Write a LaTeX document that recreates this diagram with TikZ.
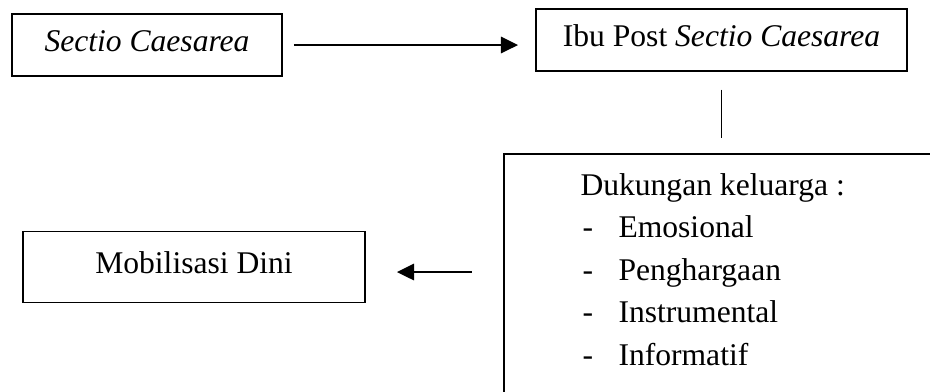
\documentclass[tikz,border=0pt]{standalone}
\usepackage{fontspec}
\setmainfont{Liberation Serif}
\usetikzlibrary{arrows.meta}

\tikzset{
  box/.style={draw,line width=0.6pt,inner sep=0pt,text height=8pt,text depth=3pt},
  flow/.style={line width=0.9pt,-{Triangle[length=6.5pt,width=6.2pt]}},
  entry/.style={anchor=base west,inner sep=0pt}
}

\begin{document}
\begin{tikzpicture}[x=0.38pt,y=-0.38pt,font=\fontsize{12}{14}\selectfont]
\useasboundingbox (0,0) rectangle (930,391);
\clip (0,0) rectangle (930,391);

\node[box,minimum width=102.6pt,minimum height=23.6pt] (sc) at (147,45) {\textit{Sectio Caesarea}};
\node[box,minimum width=141pt,minimum height=23.6pt] (ibu) at (721.5,40) {Ibu Post \textit{Sectio Caesarea}};
\node[box,minimum width=130pt,minimum height=27pt] (mobil) at (194,267) {Mobilisasi Dini};
\node[box,anchor=north west,minimum width=175pt,minimum height=99pt] (support) at (503,153) {};

% isi kotak dukungan
\node[entry] (title) at (580,195) {Dukungan keluarga :};
\foreach \txt [count=\i] in {Emosional,Penghargaan,Instrumental,Informatif}
{
  \node[entry] (dash\i) at (582,195+42.5*\i) {-};
  \node[entry] (item\i) at (618,195+42.5*\i) {\txt};
}

\draw[flow,shorten <=4.2pt,shorten >=6.5pt] (sc.east) -- (ibu.west |- sc.east);
\draw[line width=0.5pt,shorten <=6.8pt,shorten >=5.7pt] (ibu.south) -- (ibu.south |- support.north);
\draw[flow,shorten <=11.8pt,shorten >=11.8pt] ([yshift=-1.9pt]support.west |- mobil.east) -- ([yshift=-1.9pt]mobil.east);
\end{tikzpicture}
\end{document}
